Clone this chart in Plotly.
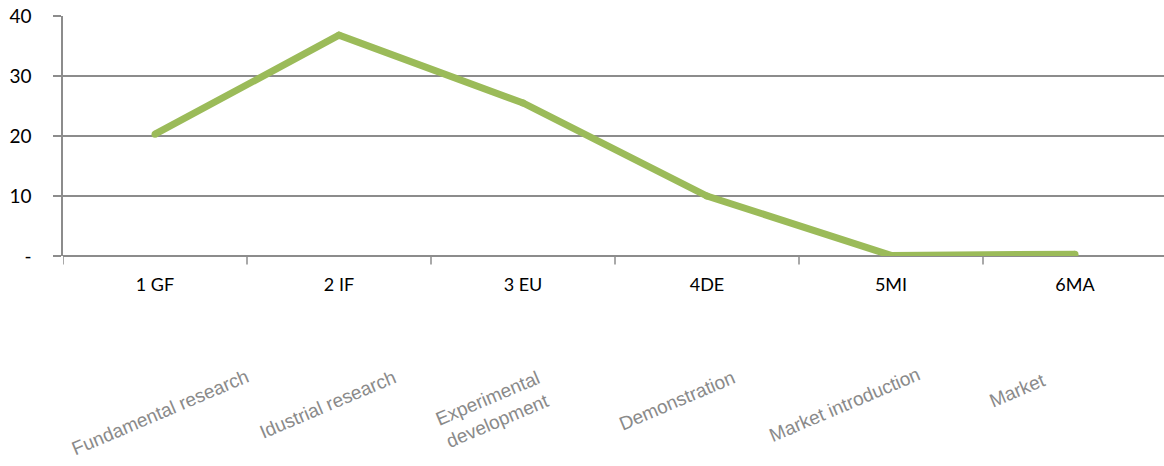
import plotly.graph_objects as go

# Technology readiness stages
stages = ["1 GF", "2 IF", "3 EU", "4DE", "5MI", "6MA"]
values = [20.3, 36.8, 25.5, 10.0, 0.1, 0.3]
stage_names = [
    "Fundamental research",
    "Idustrial research",
    "Experimental<br>development",
    "Demonstration",
    "Market introduction",
    "Market",
]
y_ticks = [0, 10, 20, 30, 40]
y_tick_text = ["-", "10", "20", "30", "40"]

GREEN = "#9BBB59"
GRID = "#8C8C8C"

fig = go.Figure()
fig.add_trace(go.Scatter(
    x=list(range(len(stages))),
    y=values,
    mode="lines+markers",
    line=dict(color=GREEN, width=7),
    marker=dict(color=GREEN, size=7),
    hoverinfo="skip",
    showlegend=False,
))

# Rotated descriptive labels below the axis
name_shift = [5, -11, -31, -30, -46, -58]
name_y = [-0.65, -0.62, -0.64, -0.60, -0.62, -0.56]
for i, (name, dx, ny) in enumerate(zip(stage_names, name_shift, name_y)):
    fig.add_annotation(
        x=i, xref="x",
        y=ny, yref="paper",
        xshift=dx,
        xanchor="center", yanchor="middle",
        text=name,
        showarrow=False,
        textangle=-23,
        font=dict(family="Liberation Sans", size=19, color="#8A8A8A"),
        align="center",
    )

band = 184.0
plot_w = 1164 - 63
fig.update_layout(
    width=1164,
    height=466,
    margin=dict(l=63, r=0, t=16, b=210),
    paper_bgcolor="white",
    plot_bgcolor="white",
    xaxis=dict(
        range=[-0.5, -0.5 + plot_w / band],
        tickmode="array",
        tickvals=list(range(len(stages))),
        ticktext=stages,
        showgrid=False,
        zeroline=False,
        showline=False,
        ticks="",
        ticklabelstandoff=16,
        tickfont=dict(family="Lato, Carlito, Calibri", size=18, color="#000000"),
    ),
    yaxis=dict(
        range=[0, 40],
        tickmode="array",
        tickvals=y_ticks,
        ticktext=y_tick_text,
        showgrid=True,
        gridcolor=GRID,
        gridwidth=1.5,
        zeroline=True,
        zerolinecolor=GRID,
        zerolinewidth=1.5,
        showline=True,
        linecolor=GRID,
        linewidth=1.5,
        ticks="outside",
        ticklen=8,
        tickcolor=GRID,
        tickwidth=1.5,
        ticklabelstandoff=18,
        tickfont=dict(family="Lato, Carlito, Calibri", size=19, color="#000000"),
    ),
)

# Boundary ticks on the category axis
for b in range(len(stages)):
    fig.add_shape(
        type="line", xref="x", yref="paper",
        x0=b - 0.5, x1=b - 0.5, y0=0, y1=-0.035,
        line=dict(color=GRID, width=1.5),
    )

fig.write_html("out.html")
